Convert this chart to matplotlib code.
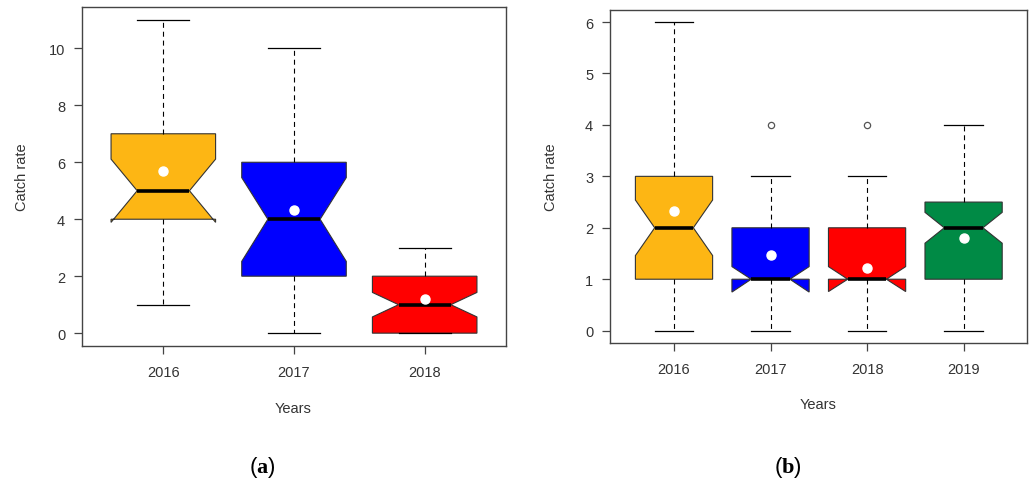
import matplotlib
matplotlib.use("Agg")
import matplotlib.pyplot as plt

plt.rcParams['font.family'] = ['Liberation Sans', 'DejaVu Sans']
plt.rcParams['mathtext.fontset'] = 'custom'
plt.rcParams['mathtext.rm'] = 'Liberation Serif'
plt.rcParams['mathtext.bf'] = 'Liberation Serif:bold'

# ---- panel (a): catch rate summaries per year ----
years_a = ["2016", "2017", "2018"]
colors_a = ["#FDB614", "#0000FF", "#FF0000"]
whislo_a = [1, 0, 0]
q1_a = [4, 2, 0]
med_a = [5, 4, 1]
q3_a = [7, 6, 2]
whishi_a = [11, 10, 3]
cilo_a = [3.89, 2.52, 0.57]
cihi_a = [6.11, 5.46, 1.43]
mean_a = [5.68, 4.33, 1.20]
fliers_a = [[], [], []]

# ---- panel (b) ----
years_b = ["2016", "2017", "2018", "2019"]
colors_b = ["#FDB614", "#0000FF", "#FF0000", "#008A45"]
whislo_b = [0, 0, 0, 0]
q1_b = [1, 1, 1, 1]
med_b = [2, 1, 1, 2]
q3_b = [3, 2, 2, 2.5]
whishi_b = [6, 3, 3, 4]
cilo_b = [1.46, 0.75, 0.76, 1.70]
cihi_b = [2.54, 1.245, 1.245, 2.30]
mean_b = [2.32, 1.48, 1.21, 1.81]
fliers_b = [[], [4], [4], []]

TXT = "#333333"
FRAME = "#444444"


def build_stats(labels, wlo, q1, med, q3, whi, clo, chi, fl):
    out = []
    for i in range(len(labels)):
        out.append(dict(label=labels[i], whislo=wlo[i], q1=q1[i], med=med[i],
                        q3=q3[i], whishi=whi[i], cilo=clo[i], cihi=chi[i],
                        fliers=fl[i]))
    return out


def draw_panel(ax, labels, colors, stats, means, ylim, yticks):
    n = len(labels)
    pos = list(range(1, n + 1))
    res = ax.bxp(stats, positions=pos, widths=0.8, capwidths=0.4,
                 shownotches=True, patch_artist=True, showfliers=True,
                 boxprops=dict(edgecolor="#333333", linewidth=0.8),
                 whiskerprops=dict(color="black", linewidth=0.8,
                                   linestyle=(0, (4.5, 3.5))),
                 capprops=dict(color="black", linewidth=0.9),
                 medianprops=dict(color="black", linewidth=2.6,
                                  solid_capstyle="butt"),
                 flierprops=dict(marker="o", markerfacecolor="none",
                                 markeredgecolor="#555555", markersize=4.5,
                                 markeredgewidth=0.9))
    for patch, c in zip(res["boxes"], colors):
        patch.set_facecolor(c)
    ax.plot(pos, means, linestyle="none", marker="o", markersize=6.5,
            markerfacecolor="white", markeredgecolor="white", zorder=5)
    xr = n  # data span 0.5..n+0.5
    ax.set_xlim(0.5 - 0.04 * xr, n + 0.5 + 0.04 * xr)
    ax.set_ylim(*ylim)
    ax.set_xticks(pos)
    ax.set_xticklabels(labels)
    ax.set_yticks(yticks)
    ax.set_yticklabels([str(t) for t in yticks])
    for s in ax.spines.values():
        s.set_color(FRAME)
        s.set_linewidth(1.0)
    ax.tick_params(direction="out", length=5.8, width=0.9, color=FRAME,
                   labelcolor=TXT, labelsize=10.5, pad=6.5)
    ax.tick_params(axis="x", pad=8)


fig = plt.figure(figsize=(10.3, 4.85), dpi=100)
W, H = 1030.0, 485.0

ax_a = fig.add_axes([82.3 / W, (H - 346.7) / H, (505.7 - 82.3) / W,
                     (346.7 - 8.3) / H])
ax_b = fig.add_axes([610.3 / W, (H - 344.0) / H, (1027.3 - 610.3) / W,
                     (344.0 - 10.7) / H])

draw_panel(ax_a, years_a, colors_a,
           build_stats(years_a, whislo_a, q1_a, med_a, q3_a, whishi_a,
                       cilo_a, cihi_a, fliers_a),
           mean_a, (-0.44, 11.44), [0, 2, 4, 6, 8, 10])
draw_panel(ax_b, years_b, colors_b,
           build_stats(years_b, whislo_b, q1_b, med_b, q3_b, whishi_b,
                       cilo_b, cihi_b, fliers_b),
           mean_b, (-0.24, 6.24), [0, 1, 2, 3, 4, 5, 6])

# axis titles
fig.text(22 / W, 1 - 177 / H, "Catch rate", rotation=90, ha="center",
         va="center", fontsize=10.5, color=TXT)
fig.text(293 / W, 1 - 409 / H, "Years", ha="center", va="center",
         fontsize=10.5, color=TXT)
fig.text(551 / W, 1 - 177 / H, "Catch rate", rotation=90, ha="center",
         va="center", fontsize=10.5, color=TXT)
fig.text(818 / W, 1 - 405 / H, "Years", ha="center", va="center",
         fontsize=10.5, color=TXT)

# panel tags
fig.text(262 / W, 1 - 468 / H, r"($\mathbf{a}$)", ha="center", va="center",
         fontsize=16, color="black")
fig.text(788 / W, 1 - 468 / H, r"($\mathbf{b}$)", ha="center", va="center",
         fontsize=16, color="black")

fig.savefig("out.png", dpi=100, facecolor="white")
